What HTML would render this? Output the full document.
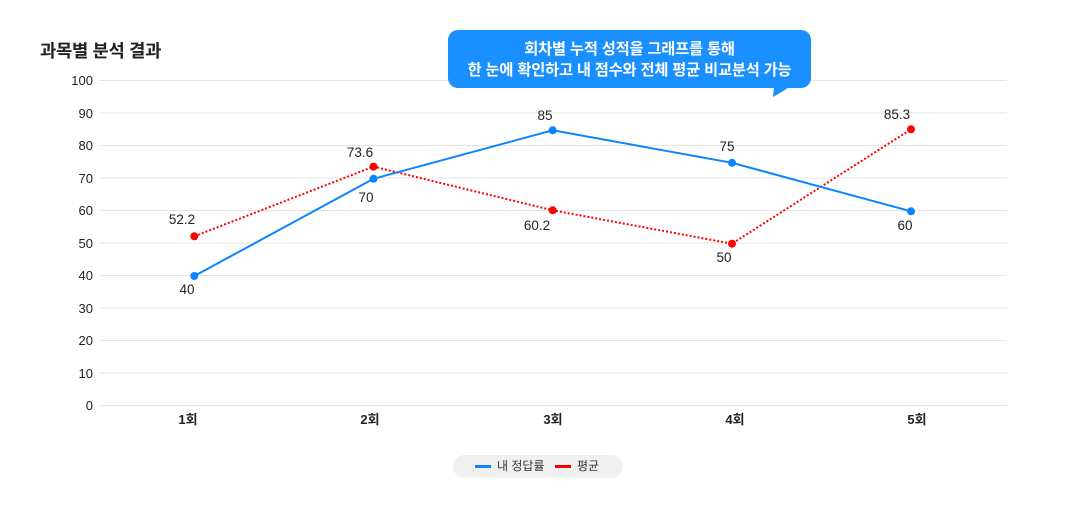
<!DOCTYPE html>
<html>
<head>
<meta charset="utf-8">
<style>
  html,body{margin:0;padding:0;background:#fff;}
  body{width:1080px;height:520px;overflow:hidden;position:relative;font-family:"Liberation Sans","Noto Sans CJK KR",sans-serif;}
  svg{position:absolute;left:0;top:0;}
  .title{position:absolute;left:40px;top:37px;font-size:17.7px;font-weight:bold;color:#222;font-family:"Liberation Sans","Noto Sans CJK KR",sans-serif;letter-spacing:-0.3px;}
  .bubble{position:absolute;left:448px;top:30px;width:363px;height:58px;background:#1a8fff;border-radius:10px;color:#fff;font-weight:bold;font-size:15.3px;line-height:21px;text-align:center;box-sizing:border-box;padding-top:9px;font-family:"Liberation Sans","Noto Sans CJK KR",sans-serif;letter-spacing:-0.2px;}
  .legend{position:absolute;left:453px;top:455px;width:170px;height:23px;background:#f0f0f0;border-radius:12px;font-size:12px;color:#333;font-family:"Liberation Sans","Noto Sans CJK KR",sans-serif;}
  .legend .ln{position:absolute;top:10px;width:16px;height:3px;}
  .legend .tx{position:absolute;top:3px;line-height:17px;}
</style>
</head>
<body>
<svg width="1080" height="520" viewBox="0 0 1080 520" xmlns="http://www.w3.org/2000/svg">
  <g stroke="#e4e4e4" stroke-width="1">
    <line x1="99" y1="80.5" x2="1007" y2="80.5"/>
    <line x1="99" y1="113" x2="1007" y2="113"/>
    <line x1="99" y1="145.5" x2="1007" y2="145.5"/>
    <line x1="99" y1="178" x2="1007" y2="178"/>
    <line x1="99" y1="210.5" x2="1007" y2="210.5"/>
    <line x1="99" y1="243" x2="1007" y2="243"/>
    <line x1="99" y1="275.5" x2="1007" y2="275.5"/>
    <line x1="99" y1="308" x2="1007" y2="308"/>
    <line x1="99" y1="340.5" x2="1007" y2="340.5"/>
    <line x1="99" y1="373" x2="1007" y2="373"/>
    <line x1="99" y1="405.5" x2="1007" y2="405.5"/>
  </g>
  <g font-family="Liberation Sans, Noto Sans CJK KR, sans-serif" font-size="13" fill="#222" text-anchor="end">
    <text x="93" y="85">100</text>
    <text x="93" y="118">90</text>
    <text x="93" y="150">80</text>
    <text x="93" y="183">70</text>
    <text x="93" y="215">60</text>
    <text x="93" y="248">50</text>
    <text x="93" y="280">40</text>
    <text x="93" y="313">30</text>
    <text x="93" y="345">20</text>
    <text x="93" y="378">10</text>
    <text x="93" y="410">0</text>
  </g>
  <g font-family="Liberation Sans, Noto Sans CJK KR, sans-serif" font-size="13" font-weight="bold" fill="#222" text-anchor="middle">
    <text x="188" y="424">1회</text>
    <text x="370" y="424">2회</text>
    <text x="553" y="424">3회</text>
    <text x="735" y="424">4회</text>
    <text x="917" y="424">5회</text>
  </g>
  <polyline points="194.3,236.3 373.5,166.6 552.7,210.3 732,243.7 911,129.3" fill="none" stroke="#ff0000" stroke-width="2" stroke-dasharray="2,2"/>
  <polyline points="194.3,276 373.5,178.8 552.7,130.3 732,162.8 911,211.3" fill="none" stroke="#0a84ff" stroke-width="2"/>
  <g fill="#ff0000">
    <circle cx="194.3" cy="236.3" r="4"/>
    <circle cx="373.5" cy="166.6" r="4"/>
    <circle cx="552.7" cy="210.3" r="4"/>
    <circle cx="732" cy="243.7" r="4"/>
    <circle cx="911" cy="129.3" r="4"/>
  </g>
  <g fill="#0a84ff">
    <circle cx="194.3" cy="276" r="4"/>
    <circle cx="373.5" cy="178.8" r="4"/>
    <circle cx="552.7" cy="130.3" r="4"/>
    <circle cx="732" cy="162.8" r="4"/>
    <circle cx="911" cy="211.3" r="4"/>
  </g>
  <g font-family="Liberation Sans, Noto Sans CJK KR, sans-serif" font-size="13.5" fill="#222" text-anchor="middle">
    <text x="182" y="224">52.2</text>
    <text x="187" y="294">40</text>
    <text x="360" y="157">73.6</text>
    <text x="366" y="202">70</text>
    <text x="545" y="120">85</text>
    <text x="537" y="230">60.2</text>
    <text x="727" y="151">75</text>
    <text x="724" y="262">50</text>
    <text x="897" y="119">85.3</text>
    <text x="905" y="230">60</text>
  </g>
  <path d="M774,86 L773,97 Q782,92 791,86 Z" fill="#1a8fff"/>
</svg>
<div class="title">과목별 분석 결과</div>
<div class="bubble">회차별 누적 성적을 그래프를 통해<br>한 눈에 확인하고 내 점수와 전체 평균 비교분석 가능</div>
<div class="legend">
  <div class="ln" style="left:22px;background:#0a84ff;"></div>
  <div class="tx" style="left:44px;">내 정답률</div>
  <div class="ln" style="left:102px;background:#ff0000;"></div>
  <div class="tx" style="left:124px;">평균</div>
</div>
</body>
</html>
